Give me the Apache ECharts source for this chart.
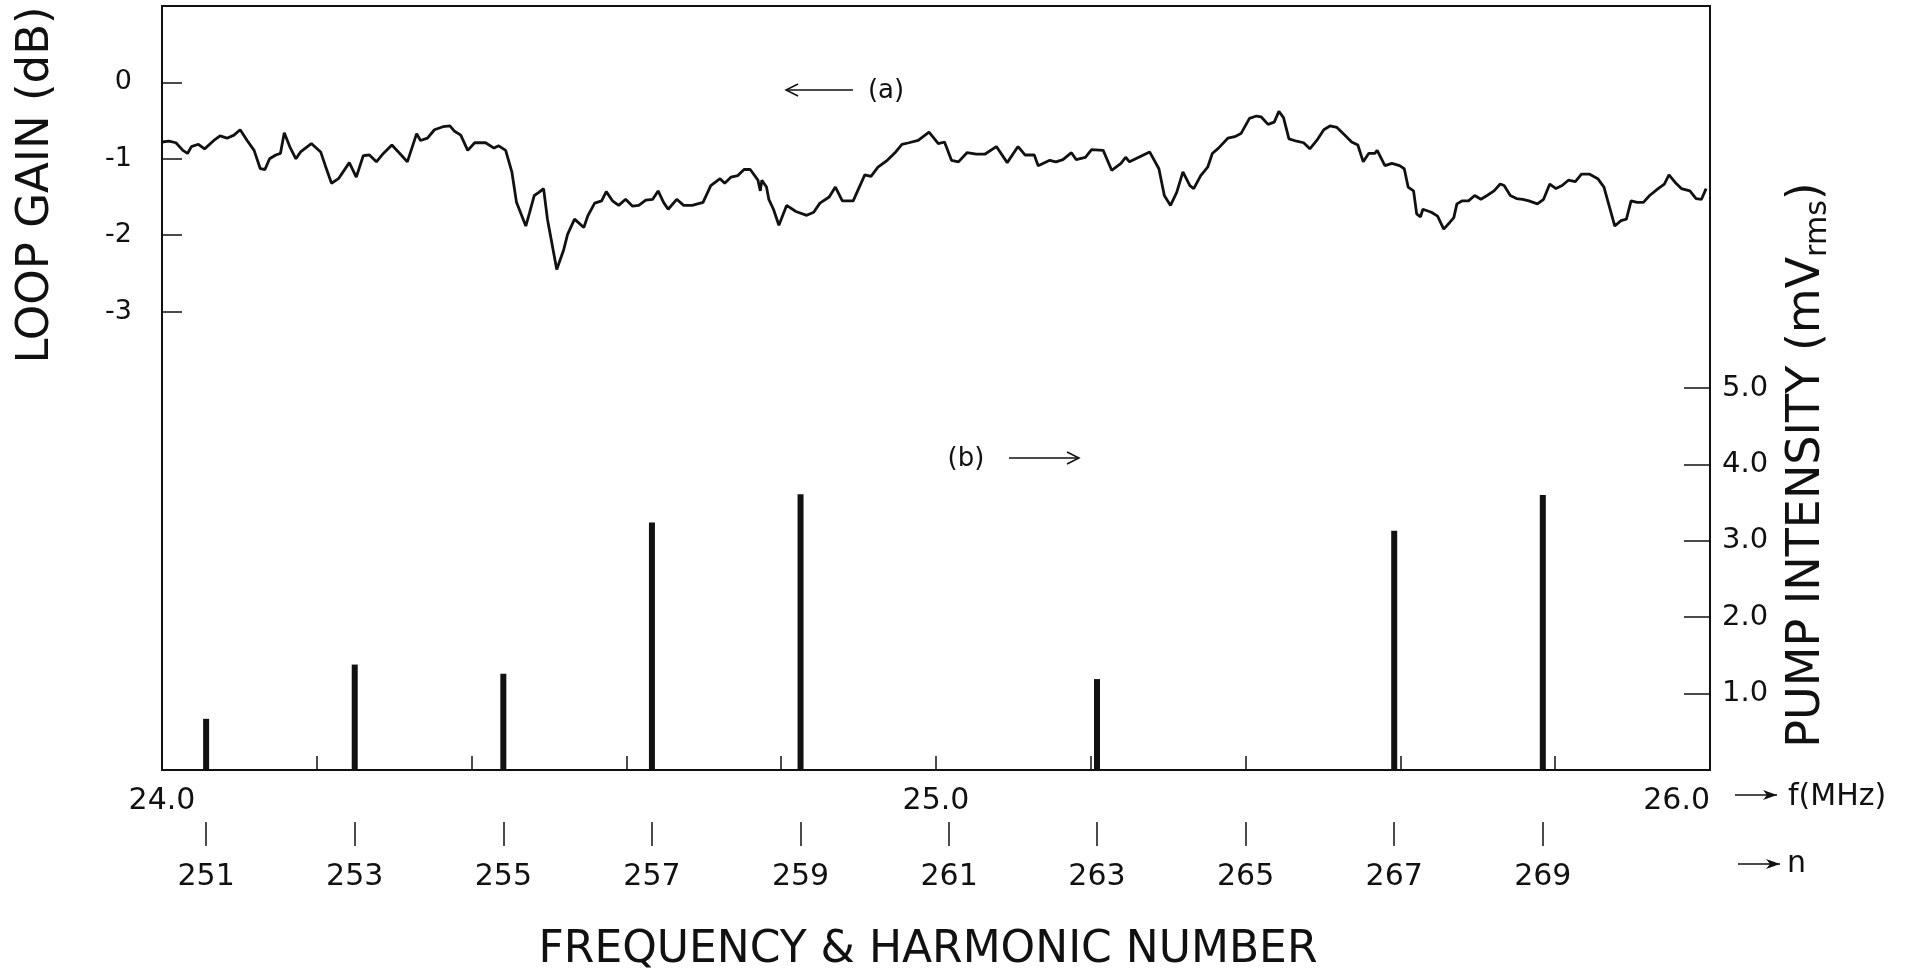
<!DOCTYPE html>
<html>
<head>
<meta charset="utf-8">
<title>Loop gain and pump intensity</title>
<script src="https://cdn.jsdelivr.net/npm/echarts@6/dist/echarts.min.js"></script>
<style>
  html, body { margin: 0; padding: 0; background: #fff; }
  #chart { width: 1905px; height: 974px; }
</style>
</head>
<body>
<div id="chart"></div>
<script>
// (a) loop gain trace: frequency (MHz) and gain (dB)
var gainFreq = [
  24.000, 24.009, 24.018, 24.027, 24.033, 24.038, 24.047, 24.055, 24.067, 24.075,
  24.084, 24.093, 24.101, 24.110, 24.119, 24.127, 24.133, 24.139, 24.147, 24.153,
  24.158, 24.165, 24.173, 24.179, 24.193, 24.205, 24.211, 24.219, 24.228, 24.242,
  24.251, 24.260, 24.268, 24.277, 24.286, 24.297, 24.309, 24.317, 24.329, 24.334,
  24.343, 24.352, 24.363, 24.372, 24.378, 24.386, 24.395, 24.404, 24.418, 24.429,
  24.435, 24.444, 24.452, 24.458, 24.470, 24.475, 24.481, 24.487, 24.493, 24.498,
  24.510, 24.519, 24.524, 24.533, 24.545, 24.550, 24.559, 24.568, 24.574, 24.582,
  24.590, 24.599, 24.608, 24.616, 24.625, 24.634, 24.641, 24.648, 24.654, 24.665,
  24.674, 24.685, 24.699, 24.709, 24.721, 24.727, 24.735, 24.744, 24.752, 24.760,
  24.770, 24.773, 24.775, 24.781, 24.784, 24.790, 24.797, 24.807, 24.819, 24.833,
  24.842, 24.850, 24.862, 24.870, 24.879, 24.893, 24.908, 24.916, 24.925, 24.937,
  24.948, 24.956, 24.965, 24.977, 24.991, 25.003, 25.011, 25.020, 25.029, 25.040,
  25.052, 25.063, 25.078, 25.092, 25.106, 25.115, 25.127, 25.132, 25.147, 25.155,
  25.164, 25.175, 25.181, 25.193, 25.201, 25.216, 25.227, 25.239, 25.245, 25.250,
  25.262, 25.276, 25.288, 25.295, 25.303, 25.311, 25.319, 25.328, 25.333, 25.342,
  25.351, 25.357, 25.365, 25.377, 25.386, 25.394, 25.405, 25.414, 25.420, 25.429,
  25.437, 25.443, 25.449, 25.456, 25.466, 25.475, 25.483, 25.492, 25.501, 25.509,
  25.518, 25.527, 25.537, 25.545, 25.552, 25.559, 25.567, 25.570, 25.580, 25.589,
  25.599, 25.605, 25.610, 25.617, 25.621, 25.626, 25.629, 25.640, 25.648, 25.656,
  25.664, 25.669, 25.673, 25.680, 25.688, 25.696, 25.704, 25.712, 25.721, 25.729,
  25.734, 25.742, 25.750, 25.758, 25.766, 25.777, 25.785, 25.793, 25.801, 25.809,
  25.817, 25.826, 25.834, 25.844, 25.855, 25.863, 25.869, 25.877, 25.885, 25.892,
  25.898, 25.906, 25.914, 25.922, 25.933, 25.941, 25.947, 25.955, 25.963, 25.974,
  25.982, 25.989, 25.995
];
var gainDb = [
  -0.78, -0.77, -0.79, -0.89, -0.93, -0.84, -0.81, -0.87, -0.76, -0.70,
  -0.73, -0.69, -0.62, -0.76, -0.89, -1.13, -1.14, -1.00, -0.95, -0.93,
  -0.66, -0.84, -1.00, -0.91, -0.80, -0.91, -1.09, -1.32, -1.26, -1.05,
  -1.24, -0.96, -0.95, -1.04, -0.93, -0.82, -0.95, -1.04, -0.67, -0.76,
  -0.73, -0.62, -0.58, -0.57, -0.64, -0.69, -0.89, -0.79, -0.79, -0.86,
  -0.83, -0.89, -1.17, -1.57, -1.88, -1.70, -1.48, -1.44, -1.39, -1.79,
  -2.45, -2.19, -1.99, -1.79, -1.90, -1.75, -1.58, -1.55, -1.43, -1.55,
  -1.61, -1.53, -1.62, -1.61, -1.54, -1.53, -1.42, -1.57, -1.66, -1.53,
  -1.61, -1.61, -1.57, -1.35, -1.26, -1.32, -1.24, -1.22, -1.14, -1.14,
  -1.28, -1.42, -1.28, -1.37, -1.53, -1.66, -1.87, -1.61, -1.69, -1.74,
  -1.70, -1.58, -1.50, -1.37, -1.55, -1.55, -1.21, -1.23, -1.11, -1.02,
  -0.91, -0.81, -0.79, -0.76, -0.65, -0.80, -0.78, -1.02, -1.04, -0.92,
  -0.94, -0.94, -0.84, -1.05, -0.84, -0.95, -0.95, -1.09, -1.02, -1.04,
  -1.01, -0.92, -1.01, -0.98, -0.88, -0.89, -1.15, -1.06, -0.98, -1.04,
  -0.98, -0.91, -1.13, -1.48, -1.61, -1.44, -1.17, -1.35, -1.39, -1.22,
  -1.11, -0.93, -0.86, -0.73, -0.71, -0.67, -0.47, -0.44, -0.45, -0.55,
  -0.52, -0.38, -0.46, -0.74, -0.77, -0.79, -0.87, -0.76, -0.62, -0.57,
  -0.59, -0.68, -0.78, -0.82, -1.04, -0.93, -0.93, -0.89, -1.09, -1.06,
  -1.09, -1.13, -1.37, -1.42, -1.72, -1.76, -1.66, -1.70, -1.75, -1.92,
  -1.83, -1.77, -1.59, -1.55, -1.55, -1.48, -1.53, -1.48, -1.42, -1.33,
  -1.35, -1.48, -1.52, -1.53, -1.55, -1.59, -1.53, -1.33, -1.39, -1.35,
  -1.28, -1.30, -1.20, -1.20, -1.26, -1.37, -1.59, -1.88, -1.81, -1.79,
  -1.55, -1.57, -1.57, -1.48, -1.39, -1.33, -1.21, -1.31, -1.39, -1.42,
  -1.52, -1.53, -1.39
];

// (b) pump lines: frequency (MHz) and intensity (mV rms)
var pumpFreq = [24.057, 24.249, 24.441, 24.633, 24.825, 25.208, 25.592, 25.784];
var pumpMv = [0.67, 1.38, 1.26, 3.24, 3.61, 1.19, 3.13, 3.60];

// harmonic number scale under the frequency axis
var harmFreq = [24.057, 24.249, 24.441, 24.633, 24.825, 25.017, 25.208, 25.400, 25.592, 25.784];
var harmNum = ['251', '253', '255', '257', '259', '261', '263', '265', '267', '269'];

// tick values
var freqLabels = [24, 25, 26];
var freqMinor = [24.2, 24.4, 24.6, 24.8, 25.0, 25.2, 25.4, 25.6, 25.8];
var gainTicks = [0, -1, -2, -3];
var pumpTicks = [1, 2, 3, 4, 5];

var ink = '#111';
var font = '"DejaVu Sans", sans-serif';

var chart = echarts.init(document.getElementById('chart'));

function arrowLine(x1, x2, y, headLeft, filled) {
  var hx = headLeft ? x1 : x2;
  var d = headLeft ? 1 : -1;
  var head = filled
    ? { type: 'polygon', shape: { points: [[hx, y], [hx + d * 14, y - 5], [hx + d * 10, y], [hx + d * 14, y + 5]] },
        style: { fill: ink } }
    : { type: 'polyline', shape: { points: [[hx + d * 12, y - 6], [hx, y], [hx + d * 12, y + 6]] },
        style: { stroke: ink, lineWidth: 1.5, fill: null } };
  return [
    { type: 'line', shape: { x1: x1, y1: y, x2: x2, y2: y }, style: { stroke: ink, lineWidth: 1.5 } },
    head
  ];
}

var labelGraphics = [
  {
    type: 'text', x: 36, y: 185, rotation: Math.PI / 2,
    style: { text: 'LOOP GAIN (dB)', font: '45px ' + font, fill: ink, align: 'center', verticalAlign: 'middle' }
  },
  {
    type: 'text', x: 1807, y: 465, rotation: Math.PI / 2,
    style: {
      text: '{a|PUMP INTENSITY (mV}{s|rms}{a|)}',
      fill: ink, align: 'center', verticalAlign: 'middle',
      rich: {
        a: { fontSize: 46, fontFamily: font, fill: ink, lineHeight: 52 },
        s: { fontSize: 30, fontFamily: font, fill: ink, lineHeight: 52, verticalAlign: 'bottom' }
      }
    }
  },
  {
    type: 'text', x: 928, y: 951,
    style: { text: 'FREQUENCY & HARMONIC NUMBER', font: '44px ' + font, fill: ink, align: 'center', verticalAlign: 'middle' }
  },
  {
    type: 'text', x: 886, y: 91,
    style: { text: '(a)', font: '26px ' + font, fill: ink, align: 'center', verticalAlign: 'middle' }
  },
  {
    type: 'text', x: 966, y: 459,
    style: { text: '(b)', font: '26px ' + font, fill: ink, align: 'center', verticalAlign: 'middle' }
  },
  {
    type: 'text', x: 1788, y: 797,
    style: { text: 'f(MHz)', font: '30px ' + font, fill: ink, align: 'left', verticalAlign: 'middle' }
  },
  {
    type: 'text', x: 1787, y: 864,
    style: { text: 'n', font: '30px ' + font, fill: ink, align: 'left', verticalAlign: 'middle' }
  }
]
  .concat(arrowLine(786, 853, 90, true, false))
  .concat(arrowLine(1009, 1079, 458, false, false))
  .concat(arrowLine(1735, 1777, 795, false, true))
  .concat(arrowLine(1738, 1780, 864, false, true));

var option = {
  backgroundColor: '#fff',
  animation: false,
  textStyle: { fontFamily: font, color: ink },
  grid: {
    left: 162, right: 195, top: 6, bottom: 204,
    show: true, borderColor: ink, borderWidth: 2, backgroundColor: 'transparent'
  },
  xAxis: [
    {
      type: 'value', min: 24, max: 26, position: 'bottom',
      axisLine: { show: false, onZero: false },
      splitLine: { show: false },
      axisTick: { show: true, inside: true, length: 14, customValues: freqMinor, lineStyle: { color: ink, width: 1.5 } },
      axisLabel: {
        customValues: freqLabels, showMinLabel: true, showMaxLabel: true, alignMaxLabel: 'right',
        margin: 16, fontSize: 30, color: ink, fontFamily: font,
        formatter: function (v) { return v.toFixed(1); }
      }
    },
    {
      type: 'value', min: 24, max: 26, position: 'bottom', offset: 52,
      axisLine: { show: false, onZero: false },
      splitLine: { show: false },
      axisTick: { show: true, inside: false, length: 24, customValues: harmFreq, lineStyle: { color: ink, width: 1.5 } },
      axisLabel: {
        customValues: harmFreq, showMinLabel: true, showMaxLabel: true,
        margin: 40, fontSize: 30, color: ink, fontFamily: font,
        formatter: function (v) {
          for (var i = 0; i < harmFreq.length; i++) {
            if (Math.abs(harmFreq[i] - v) < 1e-6) return harmNum[i];
          }
          return '';
        }
      }
    }
  ],
  yAxis: [
    {
      type: 'value', min: -9, max: 1, position: 'left',
      axisLine: { show: false, onZero: false },
      splitLine: { show: false },
      axisTick: { show: true, inside: true, length: 20, customValues: gainTicks, lineStyle: { color: ink, width: 1.5 } },
      axisLabel: {
        customValues: gainTicks, margin: 30, fontSize: 27, color: ink, fontFamily: font,
        formatter: function (v) { return String(v); }
      }
    },
    {
      type: 'value', min: 0, max: 10, position: 'right',
      axisLine: { show: false, onZero: false },
      splitLine: { show: false },
      axisTick: { show: true, inside: true, length: 26, customValues: pumpTicks, lineStyle: { color: ink, width: 1.5 } },
      axisLabel: {
        customValues: pumpTicks, margin: 12, fontSize: 29, color: ink, fontFamily: font,
        formatter: function (v) { return v.toFixed(1); }
      }
    }
  ],
  series: [
    {
      name: 'loop gain',
      type: 'line',
      xAxisIndex: 0, yAxisIndex: 0,
      showSymbol: false,
      lineStyle: { color: ink, width: 2.8 },
      data: gainFreq.map(function (f, i) { return [f, gainDb[i]]; })
    },
    {
      name: 'pump intensity',
      type: 'bar',
      xAxisIndex: 0, yAxisIndex: 1,
      barWidth: 6,
      itemStyle: { color: ink },
      data: pumpFreq.map(function (f, i) { return [f, pumpMv[i]]; })
    }
  ],
  graphic: labelGraphics
};

chart.setOption(option);
</script>
</body>
</html>
